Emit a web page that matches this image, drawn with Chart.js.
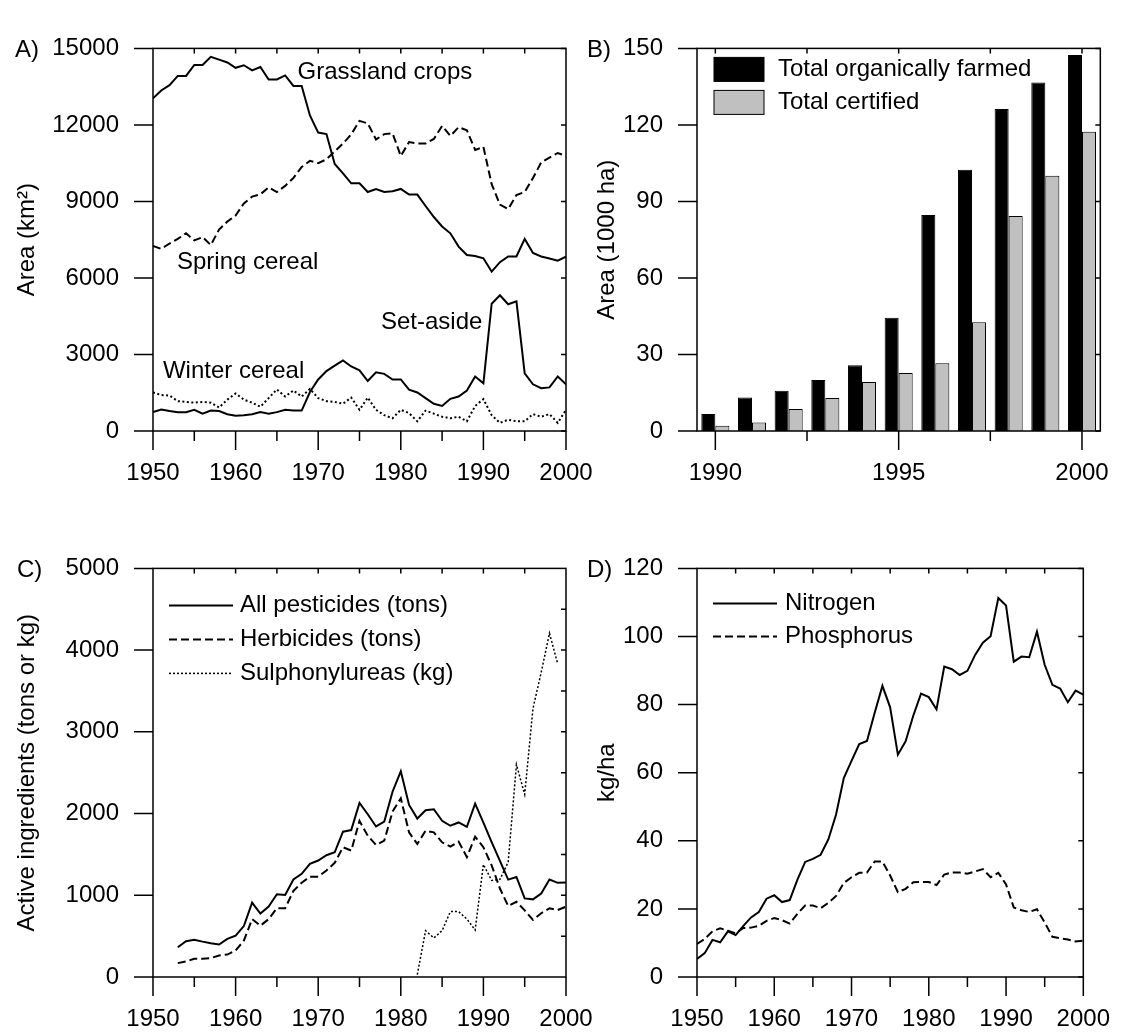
<!DOCTYPE html>
<html>
<head>
<meta charset="utf-8">
<script src="https://cdn.jsdelivr.net/npm/chart.js@4.4.1/dist/chart.umd.min.js"></script>
<style>
  html, body { margin: 0; padding: 0; background: #fff; }
  #page { position: relative; width: 1138px; height: 1034px; overflow: hidden; background: #fff; }
  #page canvas { position: absolute; }
</style>
</head>
<body>
<div id="page">
  <canvas id="chartA" width="640" height="520" style="left:0;top:0"></canvas>
  <canvas id="chartB" width="558" height="520" style="left:580px;top:0"></canvas>
  <canvas id="chartC" width="640" height="514" style="left:0;top:520px"></canvas>
  <canvas id="chartD" width="558" height="514" style="left:580px;top:520px"></canvas>
</div>
<script>
// ---- data ----
const firstYearA = 1950;
const grassland = [13040, 13350, 13560, 13920, 13920, 14350, 14350, 14670, 14560, 14450,
  14240, 14340, 14140, 14270, 13780, 13780, 13940, 13530, 13530, 12370,
  11700, 11640, 10470, 10100, 9710, 9710, 9370, 9490, 9370, 9400,
  9490, 9270, 9270, 8820, 8390, 8020, 7750, 7230, 6900, 6860,
  6770, 6250, 6620, 6840, 6840, 7530, 6980, 6840, 6760, 6680, 6840];
const springCereal = [7260, 7140, 7350, 7530, 7750, 7470, 7600, 7290, 7900, 8210,
  8450, 8920, 9190, 9280, 9550, 9370, 9610, 9920, 10350, 10590,
  10500, 10650, 10960, 11270, 11630, 12160, 12060, 11430, 11640, 11670,
  10780, 11330, 11270, 11270, 11450, 11960, 11570, 11910, 11790, 11020,
  11140, 9680, 8880, 8700, 9250, 9370, 9920, 10530, 10720, 10900, 10780];
const setAside = [740, 840, 780, 740, 740, 830, 680, 800, 780, 660,
  600, 620, 660, 740, 680, 740, 830, 800, 800, 1530,
  2020, 2350, 2560, 2770, 2530, 2380, 1960, 2300, 2240, 2020,
  2020, 1620, 1510, 1290, 1070, 980, 1260, 1350, 1590, 2140,
  1870, 4990, 5320, 4970, 5080, 2260, 1830, 1680, 1710, 2140, 1830];
const winterCereal = [1510, 1410, 1390, 1170, 1140, 1110, 1140, 1110, 920, 1230,
  1470, 1230, 1110, 950, 1290, 1630, 1350, 1590, 1350, 1650,
  1290, 1170, 1140, 1070, 1310, 830, 1310, 830, 620, 500,
  830, 700, 380, 800, 680, 560, 500, 560, 380, 980,
  1250, 620, 320, 440, 380, 380, 660, 560, 660, 320, 830];

const yearsB = [1990, 1991, 1992, 1993, 1994, 1995, 1996, 1997, 1998, 1999, 2000];
const organicTotal = [6.7, 13.1, 15.8, 20.0, 25.8, 44.4, 84.7, 102.4, 126.2, 136.6, 147.4];
const certifiedTotal = [2.1, 3.3, 8.6, 12.9, 19.2, 22.7, 26.6, 42.6, 84.3, 100.1, 117.3];

const firstYearPest = 1953;
const allPesticides = [364, 437, 457, 433, 413, 397, 466,
  506, 623, 911, 777, 862, 1012, 1004, 1194, 1263, 1385,
  1425, 1490, 1526, 1778, 1798, 2129, 1992, 1842, 1903, 2267,
  2517, 2105, 1939, 2040, 2053, 1911, 1851, 1891, 1838, 2121,
  1890, 1650, 1420, 1192, 1224, 962, 950, 1022, 1192, 1152, 1156];
const herbicides = [170, 190, 223, 223, 231, 263, 275,
  324, 445, 708, 628, 708, 842, 842, 1053, 1154, 1227,
  1227, 1304, 1397, 1588, 1547, 1911, 1729, 1616, 1669, 2024,
  2186, 1770, 1628, 1790, 1770, 1648, 1596, 1657, 1467, 1717,
  1588, 1366, 1083, 869, 921, 816, 699, 780, 840, 820, 861];
const firstYearSulph = 1982;
const sulphonylureas = [30, 567, 478, 567, 800, 800, 710, 575,
  1377, 1182, 1194, 1406, 2598, 2234, 3285, 3729, 4206, 3830];

const firstYearD = 1950;
const nitrogen = [5.3, 7.0, 10.9, 10.2, 13.4, 12.3, 15.0, 17.5, 19.1, 23.0,
  24.0, 22.0, 22.6, 28.6, 33.8, 34.7, 35.9, 40.4, 47.7, 58.4,
  63.5, 68.4, 69.3, 77.6, 85.5, 79.2, 65.3, 69.2, 76.8, 83.2,
  82.2, 78.6, 91.2, 90.4, 88.7, 89.9, 94.6, 98.2, 100.1, 111.3,
  109.1, 92.6, 94.1, 93.9, 101.4, 91.7, 85.8, 84.7, 80.7, 84.1, 82.9];
const phosphorus = [9.7, 11.2, 13.4, 14.3, 13.6, 12.8, 14.4, 14.5, 15.0, 16.5,
  17.3, 16.7, 15.7, 18.6, 21.0, 21.0, 20.2, 21.8, 23.8, 27.6,
  29.3, 30.6, 30.7, 33.9, 33.9, 29.8, 24.9, 25.9, 27.8, 27.9,
  27.9, 27.0, 30.1, 30.7, 30.7, 30.3, 31.0, 31.7, 29.3, 30.6,
  27.2, 20.4, 19.6, 19.1, 19.9, 16.0, 11.8, 11.4, 11.0, 10.4, 10.7];

// tick positions
const decadeTicks = [1950, 1960, 1970, 1980, 1990, 2000];
const halfDecadeTicks = [1955, 1965, 1975, 1985, 1995];
const fiveYearTicks = [1955, 1960, 1965, 1970, 1975, 1980, 1985, 1990, 1995];
const ticksA = [0, 3000, 6000, 9000, 12000, 15000];
const ticksB = [0, 30, 60, 90, 120, 150];
const majorTicksBx = [1990, 1995, 2000];
const minorTicksBx = [1992.5, 1997.5];
const innerTicksBx = [1990, 1992.5, 1995, 1997.5, 2000];
const ticksC = [0, 1000, 2000, 3000, 4000, 5000];
const innerTicksC = [500, 1000, 1500, 2000, 2500, 3000, 3500, 4000, 4500];
const ticksD = [0, 20, 40, 60, 80, 100, 120];

function toPoints(start, values) {
  return values.map((v, i) => ({ x: start + i, y: v }));
}

Chart.defaults.font.family = 'Arial, "Liberation Sans", Helvetica, sans-serif';
Chart.defaults.font.size = 24;
Chart.defaults.color = '#000';

// frame, ticks, notes, legend and panel letter
const framePlugin = {
  id: 'frame',
  afterDatasetsDraw(chart, args, opts) {
    const ctx = chart.ctx;
    const a = chart.chartArea;
    const x = chart.scales.x, y = chart.scales.y;
    ctx.save();
    ctx.strokeStyle = '#000';
    ctx.lineWidth = 1.5;
    ctx.setLineDash([]);
    ctx.strokeRect(a.left, a.top, a.right - a.left, a.bottom - a.top);
    ctx.beginPath();
    (opts.xMajor || []).forEach(v => {
      const p = x.getPixelForValue(v);
      ctx.moveTo(p, a.bottom); ctx.lineTo(p, a.bottom + 19);
    });
    (opts.xMinor || []).forEach(v => {
      const p = x.getPixelForValue(v);
      ctx.moveTo(p, a.bottom); ctx.lineTo(p, a.bottom + 10);
    });
    (opts.xInner || []).forEach(v => {
      const p = x.getPixelForValue(v);
      ctx.moveTo(p, a.top); ctx.lineTo(p, a.top + 5);
    });
    (opts.yMajor || []).forEach(v => {
      const p = y.getPixelForValue(v);
      ctx.moveTo(a.left, p); ctx.lineTo(a.left - 19, p);
    });
    (opts.yInner || []).forEach(v => {
      const p = y.getPixelForValue(v);
      ctx.moveTo(a.right, p); ctx.lineTo(a.right - 5, p);
    });
    ctx.stroke();

    ctx.font = '24px Arial, "Liberation Sans", sans-serif';
    ctx.fillStyle = '#000';
    ctx.textBaseline = 'middle';
    ctx.textAlign = 'left';
    if (opts.letter) ctx.fillText(opts.letter.text, opts.letter.x, a.top + 2);

    (opts.notes || []).forEach(n => {
      ctx.fillText(n.text, x.getPixelForValue(n.x), y.getPixelForValue(n.y));
    });

    (opts.legend || []).forEach(it => {
      const ds = chart.data.datasets[it.dataset];
      const ly = a.top + it.dy;
      if (it.box) {
        ctx.fillStyle = ds.backgroundColor;
        ctx.fillRect(a.left + 17, ly - 12, 50, 24);
        ctx.lineWidth = 1;
        ctx.strokeRect(a.left + 17, ly - 12, 50, 24);
      } else {
        ctx.strokeStyle = ds.borderColor;
        ctx.lineWidth = ds.borderWidth;
        ctx.setLineDash(ds.borderDash || []);
        ctx.beginPath();
        ctx.moveTo(a.left + 16, ly);
        ctx.lineTo(a.left + 80, ly);
        ctx.stroke();
        ctx.setLineDash([]);
      }
      ctx.fillStyle = '#000';
      ctx.fillText(ds.label, a.left + it.dx, ly);
    });
    ctx.restore();
  }
};

function lineDataset(label, points, dash, width) {
  return {
    label: label,
    data: points,
    borderColor: '#000',
    backgroundColor: '#000',
    borderWidth: width || 2,
    borderDash: dash,
    pointRadius: 0,
    tension: 0,
    fill: false
  };
}

function baseOptions(cfg) {
  return {
    responsive: false,
    animation: false,
    layout: { padding: cfg.padding },
    plugins: {
      legend: { display: false },
      tooltip: { enabled: false },
      frame: cfg.frame
    },
    scales: {
      x: {
        type: 'linear',
        min: cfg.xMin,
        max: cfg.xMax,
        offset: false,
        grid: { display: false, drawTicks: false },
        border: { display: false },
        afterFit: s => { s.height = cfg.xHeight; },
        ticks: {
          stepSize: cfg.xStep,
          includeBounds: false,
          autoSkip: false,
          maxRotation: 0,
          padding: 28,
          callback: v => String(v)
        }
      },
      y: {
        min: 0,
        max: cfg.yMax,
        grid: { display: false, drawTicks: false },
        border: { display: false },
        afterFit: s => { s.width = cfg.yWidth; },
        title: { display: true, text: cfg.yTitle, padding: { top: 13, bottom: 0 } },
        ticks: {
          stepSize: cfg.yStep,
          padding: 34,
          callback: v => String(v)
        }
      }
    }
  };
}

// Panel A - land use
new Chart(document.getElementById('chartA'), {
  type: 'line',
  data: {
    datasets: [
      lineDataset('Grassland crops', toPoints(firstYearA, grassland), []),
      lineDataset('Spring cereal', toPoints(firstYearA, springCereal), [8, 4]),
      lineDataset('Set-aside', toPoints(firstYearA, setAside), []),
      lineDataset('Winter cereal', toPoints(firstYearA, winterCereal), [2, 2.5])
    ]
  },
  options: baseOptions({
    padding: { top: 20, right: 74, left: 0, bottom: 0 },
    xMin: 1950, xMax: 2000, xStep: 10, xHeight: 89,
    yMax: 15000, yStep: 3000, yWidth: 153, yTitle: 'Area (km²)',
    frame: {
      xMajor: decadeTicks, xMinor: halfDecadeTicks, xInner: fiveYearTicks,
      yMajor: ticksA, yInner: ticksA,
      letter: { text: 'A)', x: 15 },
      notes: [
        { text: 'Grassland crops', x: 1967.5, y: 14050 },
        { text: 'Spring cereal', x: 1952.9, y: 6600 },
        { text: 'Set-aside', x: 1977.6, y: 4240 },
        { text: 'Winter cereal', x: 1951.2, y: 2340 }
      ]
    }
  }),
  plugins: [framePlugin]
});

// Panel B - organic farming
const optsB = baseOptions({
  padding: { top: 19, right: 29, left: 0, bottom: 0 },
  xMin: 1989.5, xMax: 2000.5, xStep: 5, xHeight: 89,
  yMax: 150, yStep: 30, yWidth: 117, yTitle: 'Area (1000 ha)',
  frame: {
    xMajor: majorTicksBx, xMinor: minorTicksBx, xInner: innerTicksBx,
    yMajor: ticksB, yInner: ticksB,
    letter: { text: 'B)', x: 7 },
    legend: [
      { dataset: 0, dy: 21, dx: 81, box: true },
      { dataset: 1, dy: 54, dx: 81, box: true }
    ]
  }
});
new Chart(document.getElementById('chartB'), {
  type: 'bar',
  data: {
    datasets: [
      {
        label: 'Total organically farmed',
        data: yearsB.map((yr, i) => ({ x: yr, y: organicTotal[i] })),
        backgroundColor: '#000',
        borderColor: '#000',
        borderWidth: 1,
        barPercentage: 1.0,
        categoryPercentage: 0.765
      },
      {
        label: 'Total certified',
        data: yearsB.map((yr, i) => ({ x: yr, y: certifiedTotal[i] })),
        backgroundColor: '#c0c0c0',
        borderColor: '#000',
        borderWidth: 1,
        barPercentage: 1.0,
        categoryPercentage: 0.765
      }
    ]
  },
  options: optsB,
  plugins: [framePlugin]
});

// Panel C - pesticides
new Chart(document.getElementById('chartC'), {
  type: 'line',
  data: {
    datasets: [
      lineDataset('All pesticides (tons)', toPoints(firstYearPest, allPesticides), []),
      lineDataset('Herbicides (tons)', toPoints(firstYearPest, herbicides), [8, 4]),
      lineDataset('Sulphonylureas (kg)', toPoints(firstYearSulph, sulphonylureas), [2, 2], 1.5)
    ]
  },
  options: baseOptions({
    padding: { top: 44, right: 74, left: 0, bottom: 0 },
    xMin: 1950, xMax: 2000, xStep: 10, xHeight: 57,
    yMax: 5000, yStep: 1000, yWidth: 153, yTitle: 'Active ingredients (tons or kg)',
    frame: {
      xMajor: decadeTicks, xMinor: halfDecadeTicks, xInner: fiveYearTicks,
      yMajor: ticksC, yInner: innerTicksC,
      letter: { text: 'C)', x: 17 },
      legend: [
        { dataset: 0, dy: 37, dx: 87 },
        { dataset: 1, dy: 71, dx: 87 },
        { dataset: 2, dy: 105, dx: 87 }
      ]
    }
  }),
  plugins: [framePlugin]
});

// Panel D - fertiliser
new Chart(document.getElementById('chartD'), {
  type: 'line',
  data: {
    datasets: [
      lineDataset('Nitrogen', toPoints(firstYearD, nitrogen), []),
      lineDataset('Phosphorus', toPoints(firstYearD, phosphorus), [8, 4])
    ]
  },
  options: baseOptions({
    padding: { top: 44, right: 29, left: 0, bottom: 0 },
    xMin: 1950, xMax: 2000, xStep: 10, xHeight: 57,
    yMax: 120, yStep: 20, yWidth: 117, yTitle: 'kg/ha',
    frame: {
      xMajor: decadeTicks, xMinor: halfDecadeTicks, xInner: fiveYearTicks,
      yMajor: ticksD, yInner: ticksD,
      letter: { text: 'D)', x: 7 },
      legend: [
        { dataset: 0, dy: 35, dx: 88 },
        { dataset: 1, dy: 68, dx: 88 }
      ]
    }
  }),
  plugins: [framePlugin]
});
</script>
</body>
</html>
